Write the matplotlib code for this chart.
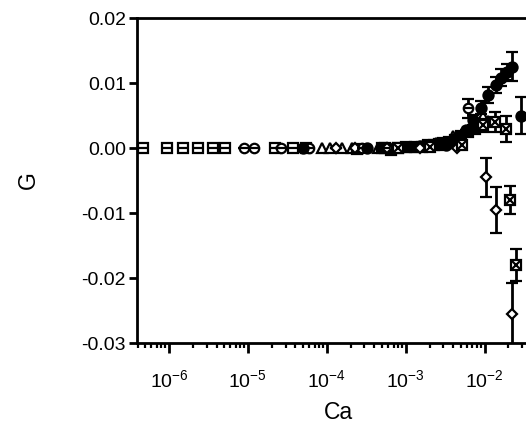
import matplotlib
matplotlib.use("Agg")
import matplotlib.pyplot as plt
from matplotlib.ticker import LogLocator, NullFormatter

plt.rcParams['font.family'] = ['Liberation Sans', 'DejaVu Sans']
plt.rcParams['mathtext.default'] = 'regular'

# ---- data ----
sqh_x = [4.7e-7, 9.4e-7, 1.5e-6, 2.3e-6, 3.6e-6, 5.1e-6, 2.2e-5, 3.7e-5, 5.5e-4, 3.0e-3]
sqh_g = [0.0, 0.0, 0.0, 0.0, 0.0, 0.0, 0.0, 0.0, 0.0, 0.0004]

circh_x = [8.9e-6, 1.2e-5, 2.6e-5, 6.0e-5, 2.8e-4, 6.1e-3]
circh_g = [0.0, 0.0, 0.0, 0.0, 0.0, 0.0061]
circh_e = [0.0, 0.0, 0.0, 0.0, 0.0, 0.0015]

tri_x = [8.7e-5, 1.1e-4, 1.55e-4, 2.1e-4, 4.5e-4, 1.1e-3, 2.4e-3, 4.0e-3, 7.0e-3, 9.5e-3, 1.1e-2]
tri_g = [0.0, 0.0, 0.0, 0.0, 0.0, 0.0002, 0.0008, 0.0018, 0.0035, 0.0050, 0.0042]

fcirc_x = [5.0e-5, 3.2e-4, 7.0e-4, 1.5e-3, 3.2e-3, 4.3e-3, 5.8e-3, 7.1e-3, 8.9e-3, 1.1e-2, 1.38e-2, 1.59e-2, 1.9e-2, 2.2e-2, 2.85e-2]
fcirc_g = [0.0, 0.0, 0.0, 0.0003, 0.0005, 0.0012, 0.0028, 0.0043, 0.0062, 0.0082, 0.0097, 0.0108, 0.0117, 0.0125, 0.0050]
fcirc_e = [0, 0, 0, 0, 0, 0, 0, 0.0008, 0.0010, 0.0012, 0.0012, 0.0013, 0.0013, 0.0022, 0.0028]

fsq_x = [5.5e-5, 2.4e-4, 5.0e-4, 6.5e-4, 8.0e-4, 1.0e-3, 1.3e-3, 1.6e-3, 1.9e-3, 2.3e-3, 2.6e-3, 3.0e-3, 3.5e-3, 4.2e-3, 5.0e-3, 6.2e-3, 7.5e-3]
fsq_g = [0.0, -0.0002, 0.0, -0.0003, 0.0, 0.0001, 0.0002, 0.0002, 0.0004, 0.0005, 0.0006, 0.0008, 0.0010, 0.0013, 0.0018, 0.0024, 0.0030]

dia_x = [1.3e-4, 2.3e-4, 5.8e-4, 1.5e-3, 4.5e-3, 1.05e-2, 1.38e-2, 2.2e-2]
dia_g = [0.0, 0.0, 0.0, 0.0, 0.0, -0.0045, -0.0095, -0.0255]
dia_e = [0, 0, 0, 0, 0, 0.0030, 0.0035, 0.0047]

bow_x = [8.0e-4, 2.0e-3, 5.2e-3, 9.5e-3, 1.35e-2, 1.85e-2, 2.1e-2, 2.5e-2]
bow_g = [0.0, 0.0002, 0.0005, 0.0035, 0.0040, 0.0030, -0.0080, -0.0180]
bow_e = [0, 0, 0, 0.0010, 0.0015, 0.0020, 0.0022, 0.0025]

# ---- figure ----
fig = plt.figure(figsize=(5.26, 4.36), dpi=100)
ax = fig.add_axes([0.2605, 0.2133, 0.766, 0.7454])
ax.set_xscale('log')
ax.set_xlim(10**-6.405, 10**-1.30)
ax.set_ylim(-0.03, 0.02)

ms = 6.8
mew = 1.6
k = 'black'
eb = dict(ecolor=k, elinewidth=2.0, capsize=4, capthick=2.0, zorder=3)

def overlay(x, y, m):
    ax.plot(x, y, ls='none', marker=m, ms=ms, mec=k, mew=mew, zorder=4)

# open squares with horizontal line
ax.plot(sqh_x, sqh_g, ls='none', marker='s', ms=ms, mfc='white', mec=k, mew=mew, zorder=3)
overlay(sqh_x, sqh_g, '_')

# open circles with horizontal line (with error bars)
ax.errorbar(circh_x, circh_g, yerr=circh_e, fmt='o', ms=ms, mfc='white', mec=k, mew=mew, **eb)
overlay(circh_x, circh_g, '_')

# open triangles
ax.plot(tri_x, tri_g, ls='none', marker='^', ms=ms + 0.5, mfc='white', mec=k, mew=mew, zorder=3)

# filled squares
ax.plot(fsq_x, fsq_g, ls='none', marker='s', ms=ms, mfc=k, mec=k, mew=mew, zorder=3)

# filled circles
ax.errorbar(fcirc_x, fcirc_g, yerr=fcirc_e, fmt='o', ms=ms + 0.5, mfc=k, mec=k, mew=mew, **eb)

# diamonds
ax.errorbar(dia_x, dia_g, yerr=dia_e, fmt='D', ms=ms - 1.5, mfc='white', mec=k, mew=mew, **eb)

# crossed squares
ax.errorbar(bow_x, bow_g, yerr=bow_e, fmt='s', ms=ms, mfc='white', mec=k, mew=mew, **eb)
overlay(bow_x, bow_g, 'x')

# ---- axes styling ----
for s in ['left', 'bottom', 'top']:
    ax.spines[s].set_linewidth(2.0)
ax.spines['right'].set_visible(False)

ax.set_yticks([-0.03, -0.02, -0.01, 0.0, 0.01, 0.02])
ax.set_yticklabels(['-0.03', '-0.02', '-0.01', '0.00', '0.01', '0.02'])
ax.xaxis.set_major_locator(LogLocator(base=10, numticks=20))
ax.xaxis.set_minor_locator(LogLocator(base=10, subs=range(2, 10), numticks=100))
ax.xaxis.set_minor_formatter(NullFormatter())

ax.tick_params(axis='both', which='major', direction='out', width=2.0, labelsize=14, color=k)
ax.tick_params(axis='y', which='major', length=6, pad=2)
ax.tick_params(axis='x', which='major', length=7, pad=12)
ax.tick_params(axis='x', which='minor', direction='out', length=3.6, width=1.6)
ax.tick_params(top=False, right=False)

ax.set_xlabel('Ca', fontsize=16.5, labelpad=7)
ax.set_ylabel('G', fontsize=16.5, labelpad=30)

fig.savefig('out.png', dpi=100)
